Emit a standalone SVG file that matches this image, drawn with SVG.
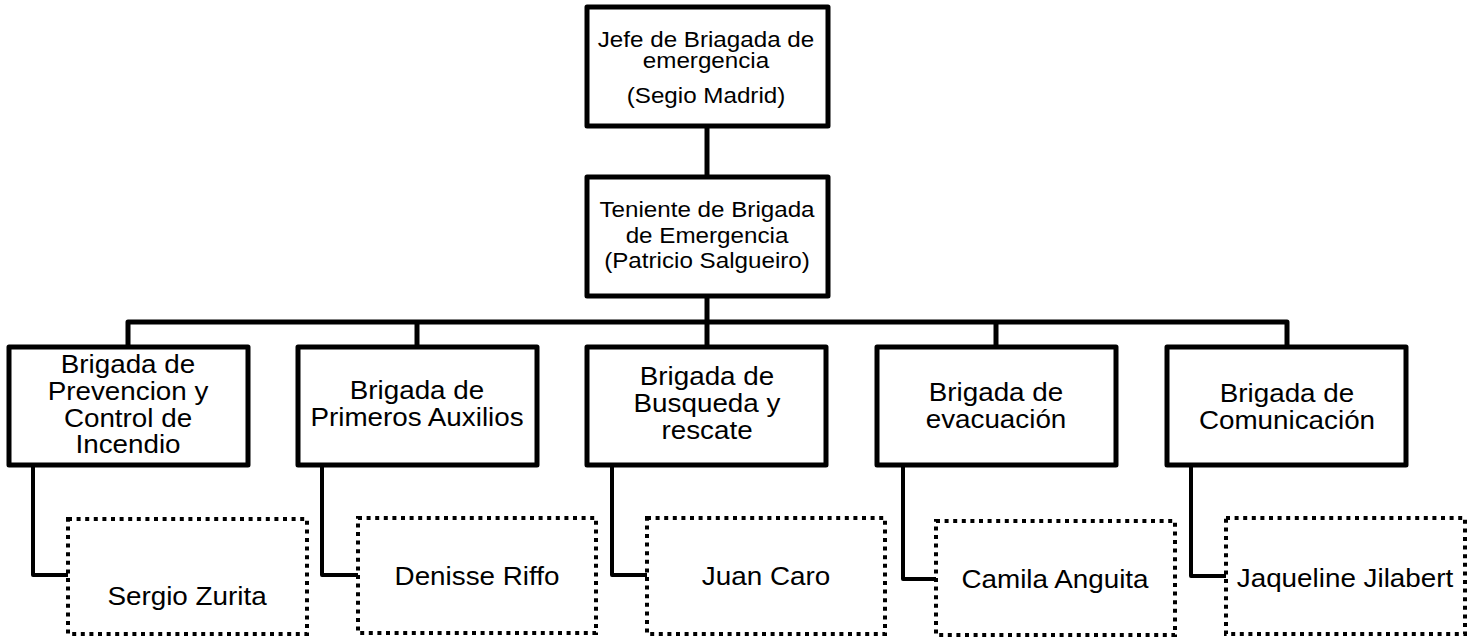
<svg xmlns="http://www.w3.org/2000/svg" width="1476" height="640" viewBox="0 0 1476 640">
<style>
.box{fill:#fff;stroke:#000;stroke-width:5;stroke-linejoin:round}
.dbox{fill:#fff;stroke:#000;stroke-width:4;stroke-dasharray:4 4.6}
.ln{fill:none;stroke:#000;stroke-width:5;stroke-linejoin:round}
.ln2{fill:none;stroke:#000;stroke-width:4;stroke-linejoin:round}
text{font-family:"Liberation Sans",Arial,sans-serif;fill:#000;text-anchor:middle}
.t1{font-size:22px}
.t2{font-size:26px}
.t3{font-size:26.5px}
</style>
<rect width="1476" height="640" fill="#fff"/>
<g id="connectors">
<path class="ln" d="M707,126V177"/>
<path class="ln" d="M707,296V322"/>
<path class="ln" d="M128,347V322H1287V347"/>
<path class="ln" d="M417,322V347"/>
<path class="ln" d="M707,322V347"/>
<path class="ln" d="M996,322V347"/>
<path class="ln2" d="M33,465V575H68"/>
<path class="ln2" d="M322,465V575H358"/>
<path class="ln2" d="M612,465V575H647"/>
<path class="ln2" d="M903,465V579H936"/>
<path class="ln2" d="M1191,465V576H1226"/>
</g>
<g id="jefe">
<rect class="box" x="587" y="7" width="241" height="119"/>
<g transform="translate(706 0) scale(1.1 1)">
<text class="t1" x="0" y="47">Jefe de Briagada de</text>
<text class="t1" x="0" y="68">emergencia</text>
<text class="t1" x="0" y="103">(Segio Madrid)</text>
</g>
</g>
<g id="teniente">
<rect class="box" x="587" y="177" width="241" height="119"/>
<g transform="translate(707 0) scale(1.1 1)">
<text class="t1" x="0" y="217">Teniente de Brigada</text>
<text class="t1" x="0" y="243">de Emergencia</text>
<text class="t1" x="0" y="268">(Patricio Salgueiro)</text>
</g>
</g>
<g id="b1">
<rect class="box" x="9" y="347" width="239" height="118"/>
<g transform="translate(128 0) scale(1.07 1)">
<text class="t2" x="0" y="373">Brigada de</text>
<text class="t2" x="0" y="400">Prevencion y</text>
<text class="t2" x="0" y="427">Control de</text>
<text class="t2" x="0" y="453">Incendio</text>
</g>
</g>
<g id="b2">
<rect class="box" x="298" y="347" width="239" height="118"/>
<g transform="translate(417 0) scale(1.07 1)">
<text class="t2" x="0" y="399">Brigada de</text>
<text class="t2" x="0" y="426">Primeros Auxilios</text>
</g>
</g>
<g id="b3">
<rect class="box" x="587" y="347" width="239" height="118"/>
<g transform="translate(707 0) scale(1.07 1)">
<text class="t2" x="0" y="385">Brigada de</text>
<text class="t2" x="0" y="412">Busqueda y</text>
<text class="t2" x="0" y="439">rescate</text>
</g>
</g>
<g id="b4">
<rect class="box" x="877" y="347" width="239" height="118"/>
<g transform="translate(996 0) scale(1.07 1)">
<text class="t2" x="0" y="401">Brigada de</text>
<text class="t2" x="0" y="428">evacuación</text>
</g>
</g>
<g id="b5">
<rect class="box" x="1167" y="347" width="239" height="118"/>
<g transform="translate(1287 0) scale(1.07 1)">
<text class="t2" x="0" y="402">Brigada de</text>
<text class="t2" x="0" y="429">Comunicación</text>
</g>
</g>
<g id="p1">
<rect class="dbox" x="68" y="519" width="239" height="115"/>
<g transform="translate(187 0) scale(1.05 1)">
<text class="t3" x="0" y="605">Sergio Zurita</text>
</g>
</g>
<g id="p2">
<rect class="dbox" x="358" y="518" width="238" height="115"/>
<g transform="translate(477 0) scale(1.05 1)">
<text class="t3" x="0" y="585">Denisse Riffo</text>
</g>
</g>
<g id="p3">
<rect class="dbox" x="647" y="518" width="238" height="116"/>
<g transform="translate(766 0) scale(1.05 1)">
<text class="t3" x="0" y="585">Juan Caro</text>
</g>
</g>
<g id="p4">
<rect class="dbox" x="936" y="521" width="239" height="114"/>
<g transform="translate(1055 0) scale(1.05 1)">
<text class="t3" x="0" y="588">Camila Anguita</text>
</g>
</g>
<g id="p5">
<rect class="dbox" x="1226" y="518" width="239" height="116"/>
<g transform="translate(1345 0) scale(1.05 1)">
<text class="t3" x="0" y="587">Jaqueline Jilabert</text>
</g>
</g>
</svg>
